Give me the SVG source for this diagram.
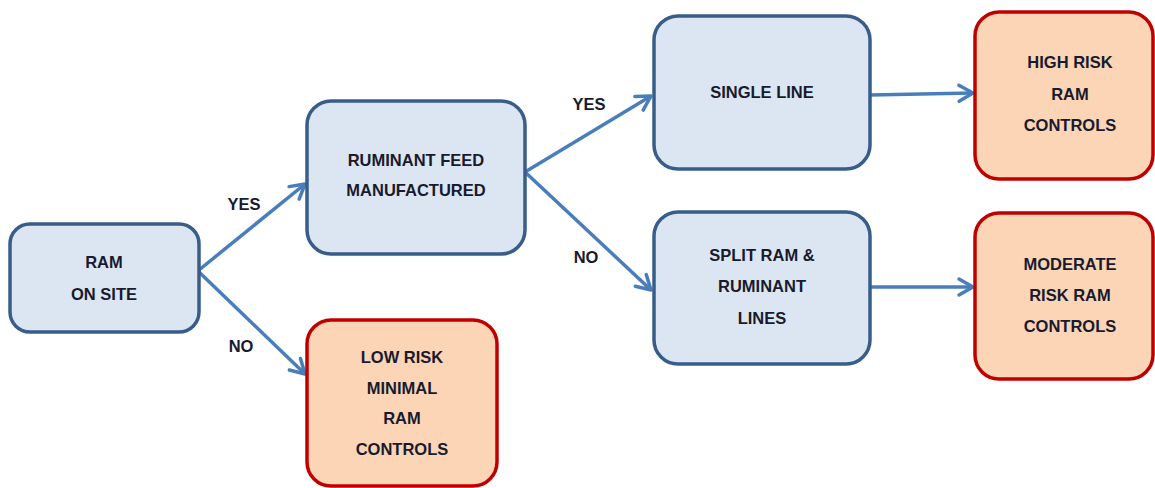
<svg xmlns="http://www.w3.org/2000/svg" width="1155" height="488" viewBox="0 0 1155 488">
<style>
.b{fill:#dce6f2;stroke:#385d8a;stroke-width:3.5}
.r{fill:#fbd5b5;stroke:#c00000;stroke-width:3.5}
.t{font-family:"Liberation Sans",Arial,sans-serif;font-weight:bold;font-size:16.5px;fill:#1a1a2e;text-anchor:middle}
.c{stroke:#4a7ebb;stroke-width:3.5;fill:none;marker-end:url(#ah)}
</style>
<defs>
<marker id="ah" viewBox="0 0 22 22" refX="19" refY="11" markerWidth="22" markerHeight="22" orient="auto" markerUnits="userSpaceOnUse">
<path d="M5,3 L19,11 L5,19" fill="none" stroke="#4a7ebb" stroke-width="3.5" stroke-linecap="round" stroke-linejoin="round"/>
</marker>
</defs>
<rect width="1155" height="488" fill="#fff"/>
<g id="connectors">
<line class="c" x1="199" y1="270" x2="305" y2="184"/>
<line class="c" x1="199" y1="272" x2="305" y2="374"/>
<line class="c" x1="525" y1="172" x2="651" y2="96"/>
<line class="c" x1="525" y1="172" x2="651" y2="290"/>
<line class="c" x1="870" y1="95" x2="973" y2="93"/>
<line class="c" x1="870" y1="287" x2="973" y2="287"/>
<text class="t" x="244" y="210">YES</text>
<text class="t" x="241" y="352">NO</text>
<text class="t" x="589" y="110">YES</text>
<text class="t" x="586" y="263">NO</text>
</g>
<g id="ram">
<rect class="b" x="10" y="224" width="189" height="108" rx="20"/>
<text class="t" x="104" y="268">RAM</text>
<text class="t" x="104" y="300">ON SITE</text>
</g>
<g id="ruminant">
<rect class="b" x="307" y="101" width="218" height="153" rx="24"/>
<text class="t" x="416" y="166">RUMINANT FEED</text>
<text class="t" x="416" y="196">MANUFACTURED</text>
</g>
<g id="single">
<rect class="b" x="654" y="16" width="216" height="153" rx="24"/>
<text class="t" x="762" y="98">SINGLE LINE</text>
</g>
<g id="split">
<rect class="b" x="654" y="212" width="216" height="152" rx="24"/>
<text class="t" x="762" y="261">SPLIT RAM &amp;</text>
<text class="t" x="762" y="292">RUMINANT</text>
<text class="t" x="762" y="324">LINES</text>
</g>
<g id="high">
<rect class="r" x="975" y="12" width="178" height="167" rx="24"/>
<text class="t" x="1070" y="68">HIGH RISK</text>
<text class="t" x="1070" y="100">RAM</text>
<text class="t" x="1070" y="131">CONTROLS</text>
</g>
<g id="moderate">
<rect class="r" x="975" y="213" width="178" height="166" rx="24"/>
<text class="t" x="1070" y="270">MODERATE</text>
<text class="t" x="1070" y="301">RISK RAM</text>
<text class="t" x="1070" y="332">CONTROLS</text>
</g>
<g id="low">
<rect class="r" x="307" y="320" width="190" height="166" rx="24"/>
<text class="t" x="402" y="363">LOW RISK</text>
<text class="t" x="402" y="394">MINIMAL</text>
<text class="t" x="402" y="424">RAM</text>
<text class="t" x="402" y="455">CONTROLS</text>
</g>
</svg>
